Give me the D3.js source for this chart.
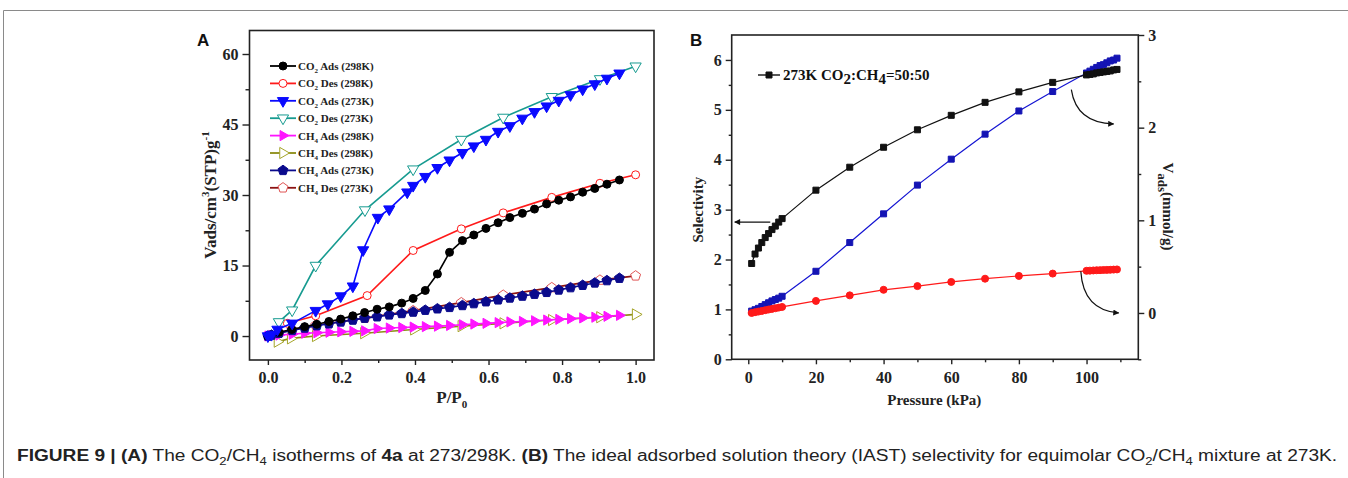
<!DOCTYPE html>
<html>
<head>
<meta charset="utf-8">
<script src="https://cdn.jsdelivr.net/npm/d3@7"></script>
<style>
  html, body { margin: 0; padding: 0; background: #fff; }
  svg { display: block; }
</style>
</head>
<body>
<svg id="fig" width="1348" height="478"></svg>
<script>
// ---------- Panel A: isotherms (P/P0 vs Vads, cm3(STP)/g) ----------
const co2Ads298X = [0, 0.005, 0.03, 0.065, 0.1, 0.133, 0.166, 0.198, 0.231, 0.263, 0.297, 0.330, 0.364, 0.395, 0.428, 0.461, 0.494, 0.529, 0.560, 0.593, 0.626, 0.658, 0.692, 0.725, 0.758, 0.791, 0.823, 0.856, 0.889, 0.922, 0.956];
const co2Ads298Y = [0, 0.2, 0.8, 1.4, 2.0, 2.5, 3.1, 3.6, 4.3, 5.0, 5.7, 6.2, 7.0, 8.0, 9.7, 13.2, 17.8, 20.3, 21.5, 22.9, 24.1, 25.2, 26.1, 27.0, 28.1, 28.9, 29.6, 30.6, 31.4, 32.3, 33.2];

const co2Des298X = [0.053, 0.130, 0.270, 0.395, 0.526, 0.640, 0.772, 0.903, 1.0];
const co2Des298Y = [2.7, 4.3, 8.6, 18.2, 22.8, 26.2, 29.5, 32.5, 34.3];

const co2Ads273X = [0, 0.01, 0.026, 0.066, 0.130, 0.163, 0.198, 0.231, 0.259, 0.299, 0.330, 0.379, 0.395, 0.428, 0.461, 0.494, 0.529, 0.560, 0.593, 0.626, 0.658, 0.692, 0.725, 0.758, 0.791, 0.823, 0.856, 0.889, 0.922, 0.956];
const co2Ads273Y = [0, 0.3, 1.4, 2.7, 5.4, 6.8, 8.5, 10.6, 18.3, 25.2, 27.0, 30.6, 32.0, 33.9, 35.8, 37.4, 39.0, 40.4, 41.8, 43.5, 44.7, 46.3, 47.7, 48.9, 50.1, 51.3, 52.5, 53.6, 54.8, 55.9];

const co2Des273X = [0.03, 0.066, 0.130, 0.264, 0.395, 0.526, 0.640, 0.772, 0.903, 1.0];
const co2Des273Y = [3.0, 5.5, 15.0, 26.8, 35.5, 41.8, 46.5, 50.9, 54.7, 57.4];

const ch4Ads298X = [0, 0.01, 0.03, 0.066, 0.1, 0.133, 0.166, 0.198, 0.231, 0.263, 0.297, 0.330, 0.364, 0.395, 0.428, 0.461, 0.494, 0.529, 0.560, 0.593, 0.626, 0.658, 0.692, 0.725, 0.758, 0.791, 0.823, 0.856, 0.889, 0.922, 0.956];
const ch4Ads298Y = [0, 0.1, 0.2, 0.4, 0.6, 0.7, 0.8, 0.9, 1.0, 1.1, 1.6, 1.7, 1.8, 1.9, 2.0, 2.1, 2.25, 2.4, 2.55, 2.7, 2.85, 3.0, 3.1, 3.25, 3.4, 3.55, 3.7, 3.85, 4.0, 4.2, 4.4];

const ch4Des298X = [0.026, 0.062, 0.130, 0.261, 0.397, 0.526, 0.640, 0.772, 0.903, 1.0];
const ch4Des298Y = [-1.2, -0.5, 0.0, 0.6, 1.4, 2.1, 2.7, 3.4, 4.0, 4.6];

const ch4Ads273X = [0, 0.01, 0.03, 0.066, 0.1, 0.133, 0.166, 0.198, 0.231, 0.263, 0.297, 0.330, 0.364, 0.395, 0.428, 0.461, 0.494, 0.529, 0.560, 0.593, 0.626, 0.658, 0.692, 0.725, 0.758, 0.791, 0.823, 0.856, 0.889, 0.922, 0.956];
const ch4Ads273Y = [0, 0.2, 0.6, 1.2, 1.7, 2.2, 2.6, 3.0, 3.4, 3.8, 4.1, 4.5, 4.8, 5.1, 5.5, 5.8, 6.1, 6.5, 6.9, 7.3, 7.7, 8.1, 8.5, 8.9, 9.3, 9.8, 10.3, 10.8, 11.3, 11.8, 12.3];

const ch4Des273X = [0.03, 0.066, 0.130, 0.264, 0.395, 0.526, 0.640, 0.772, 0.903, 1.0];
const ch4Des273Y = [0.7, 1.3, 2.3, 3.8, 5.4, 7.1, 8.7, 10.3, 11.9, 12.8];

const xTicksA = [0, 0.2, 0.4, 0.6, 0.8, 1.0];
const yTicksA = [0, 15, 30, 45, 60];

// ---------- Panel B: IAST selectivity and single-component uptake ----------
const pressureB = [1, 2, 3, 4, 5, 6, 7, 8, 9, 10, 20, 30, 40, 50, 60, 70, 80, 90, 100, 101, 102, 103, 104, 105, 106, 107, 108, 109];
const selectivity = [1.92, 2.11, 2.23, 2.34, 2.44, 2.52, 2.60, 2.67, 2.75, 2.82, 3.39, 3.85, 4.25, 4.60, 4.89, 5.15, 5.36, 5.55, 5.70, 5.71, 5.72, 5.74, 5.75, 5.76, 5.77, 5.78, 5.80, 5.81];
const co2Uptake = [0.02, 0.035, 0.05, 0.07, 0.09, 0.11, 0.13, 0.145, 0.16, 0.18, 0.45, 0.76, 1.07, 1.38, 1.66, 1.93, 2.18, 2.39, 2.59, 2.61, 2.63, 2.65, 2.67, 2.68, 2.70, 2.72, 2.73, 2.75];
const ch4Uptake = [0.0, 0.008, 0.015, 0.022, 0.03, 0.037, 0.044, 0.051, 0.058, 0.065, 0.13, 0.19, 0.25, 0.29, 0.335, 0.37, 0.40, 0.425, 0.455, 0.457, 0.459, 0.461, 0.462, 0.464, 0.465, 0.466, 0.468, 0.47];

const xTicksB = [0, 20, 40, 60, 80, 100];
const yTicksBLeft = [0, 1, 2, 3, 4, 5, 6];
const yTicksBRight = [0, 1, 2, 3];

const SERIF = "'Liberation Serif', 'Times New Roman', serif";
const SANS = "'Liberation Sans', Arial, sans-serif";

const svg = d3.select("#fig");

// outer figure frame
svg.append("path")
  .attr("d", "M3.5,478 L3.5,10.5 L1348,10.5")
  .attr("fill", "none").attr("stroke", "#8a8a8a").attr("stroke-width", 1);

// ---- marker helpers ----
function pentagonPath(r) {
  const pts = d3.range(5).map(i => {
    const a = -Math.PI / 2 + i * 2 * Math.PI / 5;
    return [r * Math.cos(a), r * Math.sin(a)];
  });
  return "M" + pts.map(p => p.join(",")).join("L") + "Z";
}
function markerPath(shape, size) {
  switch (shape) {
    case "circle": return d3.symbol(d3.symbolCircle, size * size * 0.785)();
    case "square": return d3.symbol(d3.symbolSquare, size * size)();
    case "tri": return d3.symbol(d3.symbolTriangle, size * size * 0.45)();
    case "pent": return pentagonPath(size * 0.58);
  }
}
function drawMarkers(g, pts, m) {
  g.selectAll(null).data(pts).join("path")
    .attr("d", markerPath(m.shape, m.size))
    .attr("transform", d => `translate(${d[0]},${d[1]}) rotate(${m.rot || 0})`)
    .attr("fill", m.fill)
    .attr("stroke", m.stroke)
    .attr("stroke-width", m.sw || 1);
}

// ================= Panel A =================
const A = { left: 249.5, right: 654, top: 30.5, bottom: 360 };
const xA = d3.scaleLinear().domain([-0.05, 1.05]).range([A.left, A.right]);
const yA = d3.scaleLinear().domain([-5.1, 65.0]).range([A.bottom, A.top]);

const gA = svg.append("g");

const seriesA = [
  { name: "Ads (298K)", gas: "CO", sub: "2", xs: co2Ads298X, ys: co2Ads298Y, line: "#000000", m: { shape: "circle", size: 8, fill: "#000", stroke: "#000" } },
  { name: "Des (298K)", gas: "CO", sub: "2", xs: co2Des298X, ys: co2Des298Y, line: "#ff1a1a", m: { shape: "circle", size: 8, fill: "#fff", stroke: "#ff1a1a" } },
  { name: "Ads (273K)", gas: "CO", sub: "2", xs: co2Ads273X, ys: co2Ads273Y, line: "#0a0aff", m: { shape: "tri", size: 11, fill: "#0a0aff", stroke: "#0a0aff", rot: 180 } },
  { name: "Des (273K)", gas: "CO", sub: "2", xs: co2Des273X, ys: co2Des273Y, line: "#179b90", m: { shape: "tri", size: 11, fill: "#fff", stroke: "#179b90", rot: 180 } },
  { name: "Ads (298K)", gas: "CH", sub: "4", xs: ch4Ads298X, ys: ch4Ads298Y, line: "#ff14ff", m: { shape: "tri", size: 10, fill: "#ff14ff", stroke: "#ff14ff", rot: 90 } },
  { name: "Des (298K)", gas: "CH", sub: "4", xs: ch4Des298X, ys: ch4Des298Y, line: "#8c8c14", m: { shape: "tri", size: 11, fill: "#fff", stroke: "#a5a52a", rot: 90 } },
  { name: "Ads (273K)", gas: "CH", sub: "4", xs: ch4Ads273X, ys: ch4Ads273Y, line: "#0a0a8c", m: { shape: "pent", size: 9, fill: "#0a0a8c", stroke: "#0a0a8c" } },
  { name: "Des (273K)", gas: "CH", sub: "4", xs: ch4Des273X, ys: ch4Des273Y, line: "#8c1414", m: { shape: "pent", size: 9, fill: "#fff", stroke: "#e05555" } }
];

// draw order: bottom-most series first so CO2 curves stay on top
const drawOrderA = [5, 4, 7, 6, 1, 0, 3, 2];
drawOrderA.forEach(i => {
  const s = seriesA[i];
  const pts = s.xs.map((x, k) => [xA(x), yA(s.ys[k])]);
  gA.append("path").attr("d", d3.line()(pts))
    .attr("fill", "none").attr("stroke", s.line).attr("stroke-width", 1.6);
  drawMarkers(gA.append("g"), pts, s.m);
});

// frame
gA.append("rect").attr("x", A.left).attr("y", A.top)
  .attr("width", A.right - A.left).attr("height", A.bottom - A.top)
  .attr("fill", "none").attr("stroke", "#222").attr("stroke-width", 1.6);

// axes
const axA_x = gA.append("g").attr("transform", `translate(0,${A.bottom})`)
  .call(d3.axisBottom(xA).tickValues(xTicksA).tickFormat(d3.format(".1f")).tickSize(5).tickPadding(7));
const axA_xm = gA.append("g").attr("transform", `translate(0,${A.bottom})`)
  .call(d3.axisBottom(xA).tickValues([0.1, 0.3, 0.5, 0.7, 0.9]).tickFormat("").tickSize(3));
const axA_y = gA.append("g").attr("transform", `translate(${A.left},0)`)
  .call(d3.axisLeft(yA).tickValues(yTicksA).tickSize(7).tickPadding(4));
const axA_ym = gA.append("g").attr("transform", `translate(${A.left},0)`)
  .call(d3.axisLeft(yA).tickValues([7.5, 22.5, 37.5, 52.5]).tickFormat("").tickSize(4));
[axA_x, axA_xm, axA_y, axA_ym].forEach(ax => {
  ax.select(".domain").remove();
  ax.selectAll("line").attr("stroke", "#222").attr("stroke-width", 1.4);
  ax.selectAll("text").attr("fill", "#222").style("font-family", SERIF)
    .style("font-weight", "bold").style("font-size", "16px");
});

// axis titles
const xTitleA = gA.append("text").attr("x", xA(0.5)).attr("y", 403)
  .attr("text-anchor", "middle").style("font-family", SERIF).style("font-weight", "bold")
  .style("font-size", "17px").attr("fill", "#222");
xTitleA.append("tspan").text("P/P");
xTitleA.append("tspan").text("0").attr("dy", 5).style("font-size", "11px");

const yTitleA = gA.append("text").attr("transform", `translate(216,${yA(30)}) rotate(-90)`)
  .attr("text-anchor", "middle").style("font-family", SERIF).style("font-weight", "bold")
  .style("font-size", "17px").attr("fill", "#222");
yTitleA.append("tspan").text("Vads/cm");
yTitleA.append("tspan").text("3").attr("dy", -7).style("font-size", "11px");
yTitleA.append("tspan").text("(STP)g").attr("dy", 7);
yTitleA.append("tspan").text("-1").attr("dy", -7).style("font-size", "11px");

// panel letter
svg.append("text").attr("x", 197).attr("y", 46).text("A")
  .style("font-family", SANS).style("font-weight", "bold").style("font-size", "17px").attr("fill", "#111");

// legend
const legA = gA.append("g");
seriesA.forEach((s, i) => {
  const y = 66 + i * 17.4;
  legA.append("line").attr("x1", 270).attr("x2", 296).attr("y1", y).attr("y2", y)
    .attr("stroke", s.line).attr("stroke-width", 1.8);
  drawMarkers(legA.append("g"), [[283, y]], s.m);
  const t = legA.append("text").attr("x", 298).attr("y", y + 4)
    .style("font-family", SERIF).style("font-weight", "bold").style("font-size", "11px").attr("fill", "#222");
  t.append("tspan").text(s.gas);
  t.append("tspan").text(s.sub).attr("dy", 3).style("font-size", "7px");
  t.append("tspan").text(" " + s.name).attr("dy", -3);
});

// ================= Panel B =================
const B = { left: 731.7, right: 1138.3, top: 35, bottom: 359.3 };
const xB = d3.scaleLinear().domain([-4.9, 115.3]).range([B.left, B.right]);
const yBL = d3.scaleLinear().domain([0, 6.5]).range([B.bottom, B.top]);
const yBR = d3.scaleLinear().domain([-0.5, 3.0]).range([B.bottom, B.top]);

const gB = svg.append("g");

const seriesB = [
  { vals: co2Uptake, y: yBR, line: "#1414d2", m: { shape: "square", size: 6, fill: "#1414b4", stroke: "#1414b4" } },
  { vals: ch4Uptake, y: yBR, line: "#ff1a1a", m: { shape: "circle", size: 7, fill: "#ff1a1a", stroke: "#ff1a1a" } },
  { vals: selectivity, y: yBL, line: "#111", m: { shape: "square", size: 6, fill: "#111", stroke: "#111" } }
];
seriesB.forEach(s => {
  const pts = pressureB.map((p, k) => [xB(p), s.y(s.vals[k])]);
  gB.append("path").attr("d", d3.line()(pts))
    .attr("fill", "none").attr("stroke", s.line).attr("stroke-width", 1.2);
  drawMarkers(gB.append("g"), pts, s.m);
});

// frame
gB.append("rect").attr("x", B.left).attr("y", B.top)
  .attr("width", B.right - B.left).attr("height", B.bottom - B.top)
  .attr("fill", "none").attr("stroke", "#222").attr("stroke-width", 1.6);

const intFmt = d3.format("d");
const axB = [];
axB.push(gB.append("g").attr("transform", `translate(0,${B.bottom})`)
  .call(d3.axisBottom(xB).tickValues(xTicksB).tickFormat(intFmt).tickSize(5).tickPadding(7)));
axB.push(gB.append("g").attr("transform", `translate(0,${B.bottom})`)
  .call(d3.axisBottom(xB).tickValues([10, 30, 50, 70, 90, 110]).tickFormat("").tickSize(3)));
axB.push(gB.append("g").attr("transform", `translate(${B.left},0)`)
  .call(d3.axisLeft(yBL).tickValues(yTicksBLeft).tickFormat(intFmt).tickSize(6).tickPadding(4)));
axB.push(gB.append("g").attr("transform", `translate(${B.left},0)`)
  .call(d3.axisLeft(yBL).tickValues([0.5, 1.5, 2.5, 3.5, 4.5, 5.5]).tickFormat("").tickSize(3)));
axB.push(gB.append("g").attr("transform", `translate(${B.right},0)`)
  .call(d3.axisRight(yBR).tickValues(yTicksBRight).tickFormat(intFmt).tickSize(6).tickPadding(4)));
axB.push(gB.append("g").attr("transform", `translate(${B.right},0)`)
  .call(d3.axisRight(yBR).tickValues([-0.5, 0.5, 1.5, 2.5]).tickFormat("").tickSize(3)));
axB.forEach(ax => {
  ax.select(".domain").remove();
  ax.selectAll("line").attr("stroke", "#222").attr("stroke-width", 1.4);
  ax.selectAll("text").attr("fill", "#222").style("font-family", SERIF)
    .style("font-weight", "bold").style("font-size", "16px");
});

gB.append("text").attr("x", xB(55)).attr("y", 405).text("Pressure (kPa)")
  .attr("text-anchor", "middle").style("font-family", SERIF).style("font-weight", "bold")
  .style("font-size", "15px").attr("fill", "#222");

gB.append("text").attr("transform", `translate(703,${yBL(3.0)}) rotate(-90)`).text("Selectivity")
  .attr("text-anchor", "middle").style("font-family", SERIF).style("font-weight", "bold")
  .style("font-size", "15px").attr("fill", "#222");

const yTitleBR = gB.append("text").attr("transform", `translate(1163,${yBR(1.15)}) rotate(90)`)
  .attr("text-anchor", "middle").style("font-family", SERIF).style("font-weight", "bold")
  .style("font-size", "15px").attr("fill", "#222");
yTitleBR.append("tspan").text("V");
yTitleBR.append("tspan").text("ads").attr("dy", 5).style("font-size", "13px");
yTitleBR.append("tspan").text("(mmol/g)").attr("dy", -5);

svg.append("text").attr("x", 690).attr("y", 46).text("B")
  .style("font-family", SANS).style("font-weight", "bold").style("font-size", "17px").attr("fill", "#111");

// legend for selectivity
gB.append("line").attr("x1", 758).attr("x2", 780).attr("y1", 75).attr("y2", 75)
  .attr("stroke", "#111").attr("stroke-width", 1.4);
drawMarkers(gB.append("g"), [[769, 75]], seriesB[2].m);
const legB = gB.append("text").attr("x", 783).attr("y", 80)
  .style("font-family", SERIF).style("font-weight", "bold").style("font-size", "15px").attr("fill", "#111");
legB.append("tspan").text("273K CO");
legB.append("tspan").text("2").attr("dy", 4);
legB.append("tspan").text(":CH").attr("dy", -4);
legB.append("tspan").text("4").attr("dy", 4);
legB.append("tspan").text("=50:50").attr("dy", -4);

// arrows pointing to the axis each curve belongs to
const defs = svg.append("defs");
defs.append("marker").attr("id", "arrowHead").attr("viewBox", "0 0 10 10")
  .attr("refX", 9).attr("refY", 5).attr("markerWidth", 8).attr("markerHeight", 6)
  .attr("orient", "auto").attr("markerUnits", "userSpaceOnUse")
  .append("path").attr("d", "M0,0 L10,5 L0,10 Z").attr("fill", "#111");

gB.append("line").attr("x1", xB(6.5)).attr("y1", yBL(2.75)).attr("x2", xB(-4.0)).attr("y2", yBL(2.75))
  .attr("stroke", "#111").attr("stroke-width", 1.2).attr("marker-end", "url(#arrowHead)");
gB.append("path")
  .attr("d", `M${xB(95.5)},${yBR(2.41)} Q${xB(97)},${yBR(2.05)} ${xB(108)},${yBR(2.04)}`)
  .attr("fill", "none").attr("stroke", "#111").attr("stroke-width", 1.2).attr("marker-end", "url(#arrowHead)");
gB.append("path")
  .attr("d", `M${xB(98.3)},${yBR(0.45)} Q${xB(99)},${yBR(0.03)} ${xB(109.5)},${yBR(0.0)}`)
  .attr("fill", "none").attr("stroke", "#111").attr("stroke-width", 1.2).attr("marker-end", "url(#arrowHead)");

// ================= Caption =================
const cap = svg.append("text").attr("x", 17).attr("y", 461)
  .style("font-family", SANS).style("font-size", "16px").attr("fill", "#222");
const capParts = [
  ["FIGURE 9 | ", true], ["(A)", true], [" The CO", false], ["2", false, "sub"], ["/CH", false], ["4", false, "sub"],
  [" isotherms of ", false], ["4a", true], [" at 273/298K. ", false], ["(B)", true],
  [" The ideal adsorbed solution theory (IAST) selectivity for equimolar CO", false], ["2", false, "sub"],
  ["/CH", false], ["4", false, "sub"], [" mixture at 273K.", false]
];
let prevSub = false;
capParts.forEach(([txt, bold, kind]) => {
  const isSub = kind === "sub";
  const ts = cap.append("tspan").text(txt).style("font-weight", bold ? "bold" : "normal");
  if (isSub && !prevSub) ts.attr("dy", 4).style("font-size", "11px");
  else if (!isSub && prevSub) ts.attr("dy", -4);
  prevSub = isSub;
});
// fit the caption to the column width
const capLen = cap.node().getComputedTextLength();
const targetLen = 1338 - 17;
if (capLen > 0) cap.attr("transform", `translate(17,0) scale(${targetLen / capLen},1) translate(-17,0)`);
</script>
</body>
</html>
